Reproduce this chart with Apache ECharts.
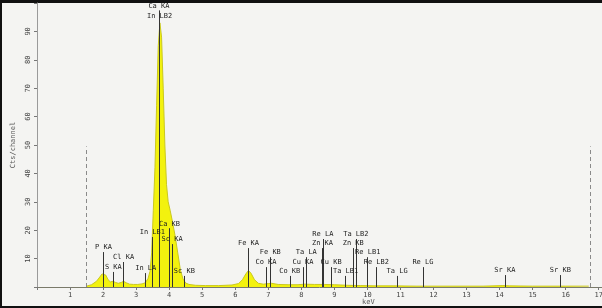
<!DOCTYPE html>
<html>
<head>
<meta charset="utf-8">
<title>EDS spectrum</title>
<script src="https://cdn.jsdelivr.net/npm/echarts@6/dist/echarts.min.js"></script>
<style>
  html, body { margin: 0; padding: 0; background: #f4f4f2; }
  #chart { width: 602px; height: 308px; }
</style>
</head>
<body>
<div id="chart"></div>
<script>
// 能谱数据 (keV, counts)
var energy = [1.50, 1.65, 1.80, 1.90, 1.97, 2.02, 2.08, 2.15, 2.22, 2.30, 2.38, 2.46, 2.55, 2.62, 2.70, 2.80, 2.92, 3.05, 3.18, 3.28,
  3.36, 3.42, 3.47, 3.52, 3.57, 3.62, 3.67, 3.72, 3.77, 3.82, 3.87, 3.92, 3.97, 4.03, 4.10, 4.18, 4.26, 4.34, 4.42, 4.50,
  4.60, 4.80, 5.10, 5.50, 5.90, 6.10, 6.22, 6.32, 6.40, 6.48, 6.58, 6.70, 6.85, 7.00, 7.10, 7.30, 7.60, 7.90, 8.10, 8.40,
  8.70, 9.00, 9.40, 9.80, 10.2, 10.8, 11.5, 12.5, 13.5, 14.1, 14.3, 15.0, 16.0, 16.7];
var counts = [0.3, 0.8, 2.0, 3.5, 4.6, 5.0, 4.2, 2.6, 1.8, 2.0, 1.6, 1.3, 1.6, 2.0, 1.5, 1.0, 0.9, 0.9, 1.1, 1.5,
  3.0, 5.5, 12, 27, 42, 64, 85, 93, 88, 70, 50, 36, 30, 27, 23, 18, 12, 6, 2.8, 1.4,
  0.9, 0.6, 0.5, 0.5, 0.7, 1.2, 2.6, 4.6, 5.8, 4.8, 2.6, 1.3, 1.0, 1.2, 1.3, 0.9, 0.8, 0.8, 1.0, 0.9,
  0.9, 0.8, 0.6, 0.5, 0.4, 0.4, 0.3, 0.3, 0.3, 0.5, 0.4, 0.3, 0.3, 0.3];

// 元素谱线标记
var lineNames = ['P KA', 'S KA', 'Cl KA', 'In LA', 'In LB1', 'Ca KA', 'In LB2', 'Ca KB', 'Sc KA', 'Sc KB',
  'Fe KA', 'Co KA', 'Fe KB', 'Co KB', 'Cu KA', 'Ta LA', 'Zn KA', 'Re LA', 'Cu KB', 'Ta LB1',
  'Zn KB', 'Ta LB2', 'Re LB1', 'Re LB2', 'Ta LG', 'Re LG', 'Sr KA', 'Sr KB'];
var lineKeV = [2.01, 2.31, 2.62, 3.29, 3.49, 3.69, 3.71, 4.01, 4.09, 4.46,
  6.40, 6.93, 7.06, 7.65, 8.05, 8.15, 8.64, 8.65, 8.90, 9.34,
  9.57, 9.65, 10.01, 10.27, 10.90, 11.68, 14.16, 15.84];
var lineTop = [12.3, 5.3, 8.8, 4.9, 17.6, 97.4, 93.9, 20.7, 15.1, 3.9,
  13.7, 7.0, 10.5, 3.9, 7.0, 10.5, 13.7, 16.9, 7.0, 3.9,
  13.7, 16.9, 10.5, 7.0, 3.9, 7.0, 4.2, 4.2];

// ROI 虚线
var roiKeV = [1.48, 16.74];
var roiTop = 49.5;

var xTicks = [1, 2, 3, 4, 5, 6, 7, 8, 9, 10, 11, 12, 13, 14, 15, 16, 17];
var yTicks = [10, 20, 30, 40, 50, 60, 70, 80, 90];

var spectrum = [];
for (var i = 0; i < energy.length; i++) {
  spectrum.push([energy[i], counts[i]]);
}

var markers = [];
for (var j = 0; j < lineKeV.length; j++) {
  markers.push([
    { name: lineNames[j], coord: [lineKeV[j], 0] },
    { coord: [lineKeV[j], lineTop[j]] }
  ]);
}

var roiLines = [];
for (var k = 0; k < roiKeV.length; k++) {
  roiLines.push([{ coord: [roiKeV[k], 0] }, { coord: [roiKeV[k], roiTop] }]);
}

var myChart = echarts.init(document.getElementById('chart'));

var option = {
  animation: false,
  backgroundColor: '#f4f4f2',
  grid: { left: 37, right: 0, top: 3, bottom: 21, outerBoundsMode: 'none' },
  xAxis: {
    type: 'value',
    min: 0,
    max: 17.1,
    interval: 1,
    splitLine: { show: false },
    axisLine: { lineStyle: { color: '#7a7a6a', width: 1 } },
    axisTick: { length: 3, lineStyle: { color: '#777' } },
    axisLabel: {
      showMaxLabel: false,
      margin: 5,
      fontFamily: 'DejaVu Sans Mono',
      fontSize: 7,
      color: '#444',
      formatter: function (v) { return xTicks.indexOf(v) >= 0 ? String(v) : ''; }
    }
  },
  yAxis: {
    type: 'value',
    min: 0,
    max: 100,
    interval: 10,
    name: 'Cts/channel',
    nameLocation: 'middle',
    nameGap: 19,
    nameTextStyle: { fontFamily: 'DejaVu Sans Mono', fontSize: 7, color: '#555' },
    splitLine: { show: false },
    axisLine: { show: true, lineStyle: { color: '#9a9a9a' } },
    axisTick: { length: 3, lineStyle: { color: '#777' } },
    axisLabel: {
      rotate: 90,
      margin: 5,
      fontFamily: 'DejaVu Sans Mono',
      fontSize: 7,
      color: '#444',
      formatter: function (v) { return yTicks.indexOf(v) >= 0 ? String(v) : ''; }
    }
  },
  graphic: [
    { type: 'text', left: 362, top: 299, style: { text: 'keV', fontFamily: 'DejaVu Sans Mono', fontSize: 7, fill: '#555' } },
    { type: 'rect', left: 0, top: 0, shape: { width: 602, height: 3 }, style: { fill: '#111' } },
    { type: 'rect', left: 0, top: 0, shape: { width: 2, height: 308 }, style: { fill: '#111' } },
    { type: 'rect', left: 0, top: 306, shape: { width: 602, height: 2 }, style: { fill: '#111' } }
  ],
  series: [
    {
      type: 'line',
      data: spectrum,
      showSymbol: false,
      smooth: false,
      lineStyle: { color: '#c9c820', width: 1 },
      areaStyle: { color: '#f3f20e', opacity: 1 },
      markLine: {
        silent: true,
        symbol: ['none', 'none'],
        lineStyle: { color: '#333', width: 1, type: 'solid' },
        label: {
          show: true,
          position: 'end',
          distance: 1,
          formatter: '{b}',
          fontFamily: 'DejaVu Sans Mono',
          fontSize: 7,
          color: '#222'
        },
        data: markers
      }
    },
    {
      type: 'line',
      data: [],
      markLine: {
        silent: true,
        symbol: ['none', 'none'],
        lineStyle: { color: '#8a8a8a', width: 1, type: [4, 3] },
        label: { show: false },
        data: roiLines
      }
    }
  ]
};

myChart.setOption(option);
</script>
</body>
</html>
